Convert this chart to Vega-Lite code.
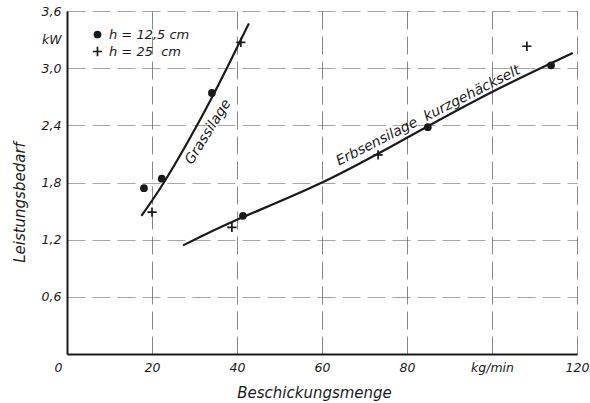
{
  "$schema": "https://vega.github.io/schema/vega-lite/v6.json",
  "width": 510,
  "height": 343,
  "autosize": {"type": "none"},
  "padding": {"left": 67, "top": 11, "right": 13, "bottom": 49},
  "background": "white",
  "config": {
    "view": {"stroke": null},
    "font": "DejaVu Sans",
    "axis": {
      "labelFont": "DejaVu Sans",
      "labelFontStyle": "italic",
      "labelFontSize": 12.5,
      "labelColor": "#1a1a1a",
      "titleFont": "DejaVu Sans",
      "titleFontStyle": "italic",
      "titleFontWeight": "normal",
      "titleFontSize": 15,
      "titleColor": "#1a1a1a",
      "ticks": false,
      "domainColor": "#1a1a1a",
      "domainWidth": 2,
      "gridColor": "#606060",
      "gridDash": [18, 7],
      "gridWidth": 1,
      "gridOpacity": 0.75
    },
    "legend": {
      "title": null,
      "orient": "none",
      "legendX": 24,
      "legendY": 17,
      "padding": 0,
      "labelFont": "DejaVu Sans",
      "labelFontStyle": "italic",
      "labelFontSize": 13,
      "labelColor": "#1a1a1a",
      "labelOffset": 5,
      "rowPadding": 3,
      "symbolSize": 60,
      "symbolFillColor": "#1a1a1a",
      "symbolStrokeWidth": 0
    },
    "text": {"font": "DejaVu Sans", "fontStyle": "italic", "color": "#1a1a1a"}
  },
  "datasets": {
    "kurven": [
      {"kurve": "Grassilage", "x": 17.5, "y": 1.45},
      {"kurve": "Grassilage", "x": 22.8, "y": 1.8},
      {"kurve": "Grassilage", "x": 30.6, "y": 2.4},
      {"kurve": "Grassilage", "x": 37.6, "y": 3.0},
      {"kurve": "Grassilage", "x": 42.8, "y": 3.47},
      {"kurve": "Erbsensilage", "x": 27.3, "y": 1.14},
      {"kurve": "Erbsensilage", "x": 40, "y": 1.41},
      {"kurve": "Erbsensilage", "x": 60, "y": 1.8},
      {"kurve": "Erbsensilage", "x": 80, "y": 2.27},
      {"kurve": "Erbsensilage", "x": 100, "y": 2.75},
      {"kurve": "Erbsensilage", "x": 119, "y": 3.16}
    ],
    "messwerte": [
      {"h": "h = 12,5 cm", "x": 18.1, "y": 1.74},
      {"h": "h = 12,5 cm", "x": 22.3, "y": 1.84},
      {"h": "h = 12,5 cm", "x": 34.1, "y": 2.74},
      {"h": "h = 12,5 cm", "x": 41.4, "y": 1.45},
      {"h": "h = 12,5 cm", "x": 84.9, "y": 2.38},
      {"h": "h = 12,5 cm", "x": 113.9, "y": 3.03},
      {"h": "h = 25\u00a0\u00a0cm", "x": 20.0, "y": 1.49},
      {"h": "h = 25\u00a0\u00a0cm", "x": 38.8, "y": 1.33},
      {"h": "h = 25\u00a0\u00a0cm", "x": 40.9, "y": 3.27},
      {"h": "h = 25\u00a0\u00a0cm", "x": 73.2, "y": 2.09},
      {"h": "h = 25\u00a0\u00a0cm", "x": 108.2, "y": 3.23}
    ]
  },
  "layer": [
    {
      "data": {"name": "kurven"},
      "mark": {"type": "line", "interpolate": "natural", "color": "#1a1a1a", "strokeWidth": 2.2},
      "encoding": {
        "x": {
          "field": "x",
          "type": "quantitative",
          "scale": {"domain": [0, 120], "nice": false},
          "axis": {
            "values": [0, 20, 40, 60, 80, 100, 120],
            "labelExpr": "datum.value == 100 ? 'kg/min' : datum.label",
            "labelPadding": 7,
            "labelFlush": false,
            "labelOffset": {"condition": {"test": "datum.value == 0", "value": -9}, "value": 0},
            "title": "Beschickungsmenge",
            "titleX": 247,
            "titleY": 43,
            "titleBaseline": "alphabetic"
          }
        },
        "y": {
          "field": "y",
          "type": "quantitative",
          "scale": {"domain": [0, 3.6], "nice": false},
          "axis": {
            "values": [0.6, 1.2, 1.8, 2.4, 3.0, 3.3, 3.6],
            "labelExpr": "datum.value == 3.3 ? 'kW' : replace(format(datum.value, '.1f'), '.', ',')",
            "labelPadding": 6,
            "labelFlush": false,
            "gridOpacity": {"condition": {"test": "datum.value == 3.3", "value": 0}, "value": 0.75},
            "title": "Leistungsbedarf",
            "titleX": -40,
            "titleY": 191
          }
        },
        "detail": {"field": "kurve"}
      }
    },
    {
      "data": {"name": "messwerte"},
      "mark": {"type": "point", "size": 60, "filled": true, "color": "#1a1a1a", "opacity": 1},
      "encoding": {
        "x": {"field": "x", "type": "quantitative"},
        "y": {"field": "y", "type": "quantitative"},
        "shape": {
          "field": "h",
          "type": "nominal",
          "scale": {
            "domain": ["h = 12,5 cm", "h = 25\u00a0\u00a0cm"],
            "range": ["circle", "M-1.2,-0.22H-0.22V-1.2H0.22V-0.22H1.2V0.22H0.22V1.2H-0.22V0.22H-1.2Z"]
          }
        }
      }
    },
    {
      "data": {"values": [{"x": 33.2, "y": 2.33, "t": "Grassilage"}]},
      "mark": {"type": "text", "angle": -58, "fontSize": 14, "align": "center", "baseline": "middle"},
      "encoding": {
        "x": {"field": "x", "type": "quantitative"},
        "y": {"field": "y", "type": "quantitative"},
        "text": {"field": "t"}
      }
    },
    {
      "data": {"values": [{"x": 85.0, "y": 2.5, "t": "Erbsensilage\u00a0\u00a0kurzgehäckselt"}]},
      "mark": {"type": "text", "angle": -27, "fontSize": 14, "align": "center", "baseline": "middle"},
      "encoding": {
        "x": {"field": "x", "type": "quantitative"},
        "y": {"field": "y", "type": "quantitative"},
        "text": {"field": "t"}
      }
    }
  ]
}
